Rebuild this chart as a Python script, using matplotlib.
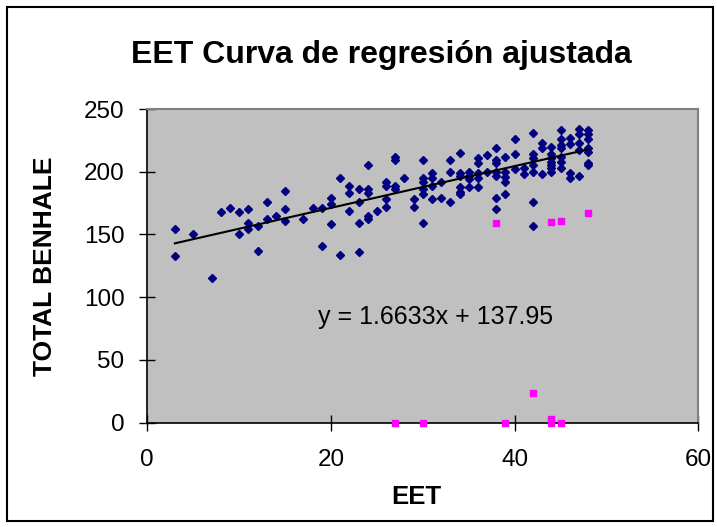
import matplotlib
matplotlib.use("Agg")
import matplotlib.pyplot as plt
from matplotlib.patches import Rectangle

plt.rcParams['font.family'] = ['Liberation Sans', 'DejaVu Sans']

# Blue series (observed values)
blue_x = [3, 3, 5, 7, 8, 9, 10, 10, 11, 11, 11, 12, 12, 13, 13, 14, 15, 15, 15,
          17, 18, 19, 19, 20, 20, 20, 21, 21, 22, 22, 22, 23, 23, 23, 23,
          24, 24, 24, 24, 24, 25, 26, 26, 26, 26, 27, 27, 27, 27, 28, 29, 29,
          30, 30, 30, 30, 30, 30, 31, 31, 31, 31, 32, 32, 33, 33, 33,
          34, 34, 34, 34, 34, 34, 35, 35, 35, 35, 36, 36, 36, 36, 36, 37, 37,
          38, 38, 38, 38, 38, 38, 38, 39, 39, 39, 39, 39, 40, 40, 40, 41, 41,
          42, 42, 42, 42, 42, 42, 42, 43, 43, 43,
          44, 44, 44, 44, 44, 44, 44, 45, 45, 45, 45, 45, 45, 45,
          46, 46, 46, 46, 47, 47, 47, 47, 47, 48, 48, 48, 48, 48, 48, 48]
blue_y = [154, 133, 150, 115, 168, 171, 168, 150, 170, 159, 154, 157, 137, 176, 162, 165, 185, 170, 161,
          162, 171, 171, 141, 179, 174, 158, 195, 134, 189, 183, 169, 186, 176, 159, 136,
          205, 186, 183, 165, 162, 169, 192, 189, 178, 172, 212, 209, 189, 186, 195, 178, 172,
          209, 195, 192, 186, 182, 159, 199, 195, 189, 178, 192, 179, 209, 200, 176,
          215, 199, 197, 188, 184, 182, 200, 197, 194, 188, 211, 207, 199, 195, 188, 213, 200,
          219, 209, 207, 200, 197, 179, 170, 212, 200, 196, 192, 182, 226, 214, 202, 203, 198,
          231, 214, 211, 205, 200, 176, 157, 223, 219, 198,
          220, 214, 211, 208, 205, 203, 200, 233, 226, 221, 219, 212, 208, 203,
          227, 222, 199, 195, 234, 230, 223, 217, 197, 233, 230, 226, 219, 216, 207, 205]

# Pink series (excluded / outlier values)
pink_x = [38, 44, 45, 48, 42, 27, 30, 39, 44, 44, 45]
pink_y = [159, 160, 161, 167, 24, 0, 0, 0, 3, 0, 0]

# Regression coefficients shown on the chart
slope = 1.6633
intercept = 137.95

x_ticks = [0, 20, 40, 60]
y_ticks = [0, 50, 100, 150, 200, 250]

W, H = 717, 527
fig = plt.figure(figsize=(W / 100, H / 100), dpi=100)
ax = fig.add_axes([147.3 / W, 1 - 422.7 / H, (698.3 - 147.3) / W, (422.7 - 109) / H])
ax.set_facecolor('#C0C0C0')

ax.plot(blue_x, blue_y, linestyle='none', marker='D', ms=4.3,
        color='#000080', mec='#000080', zorder=3)
ax.plot(pink_x, pink_y, linestyle='none', marker='s', ms=4.8,
        color='#FF00FF', mec='#FF00FF', zorder=3, clip_on=False)

x0, x1 = min(blue_x), max(blue_x)
ax.plot([x0, x1], [slope * x0 + intercept, slope * x1 + intercept],
        color='black', lw=1.5, zorder=4)

ax.text(18.6, 84.5, f"y = {slope}x + {intercept}", fontsize=18,
        ha='left', va='center', color='black')

ax.set_xlim(0, 60)
ax.set_ylim(0, 250)
ax.set_xticks(x_ticks)
ax.set_yticks(y_ticks)
ax.tick_params(axis='both', direction='inout', length=11, width=1,
               labelsize=17.5, colors='black')
ax.tick_params(axis='y', pad=11)
ax.tick_params(axis='x', pad=13.5)

for s in ['left', 'bottom']:
    ax.spines[s].set_color('black')
    ax.spines[s].set_linewidth(1.2)
for s in ['top', 'right']:
    ax.spines[s].set_color('#808080')
    ax.spines[s].set_linewidth(1.5)

ax.set_xlabel('EET', fontsize=18.5, fontweight='bold')
ax.xaxis.set_label_coords(416 / W, 1 - 497 / H, transform=fig.transFigure)
ax.set_ylabel('TOTAL BENHALE', fontsize=19, fontweight='bold')
ax.yaxis.set_label_coords(45 / W, 1 - 266 / H, transform=fig.transFigure)
ax.xaxis.label.set_va('center')
ax.yaxis.label.set_va('center')

fig.text(381 / W, 1 - 62.5 / H, 'EET Curva de regresión ajustada',
         fontsize=23, fontweight='bold', ha='center', va='baseline')

fig.patches.append(Rectangle((7 / W, 6 / H), (713 - 7) / W, (520 - 6) / H,
                             transform=fig.transFigure, fill=False,
                             edgecolor='black', lw=1.5))

fig.savefig('out.png', dpi=100)
